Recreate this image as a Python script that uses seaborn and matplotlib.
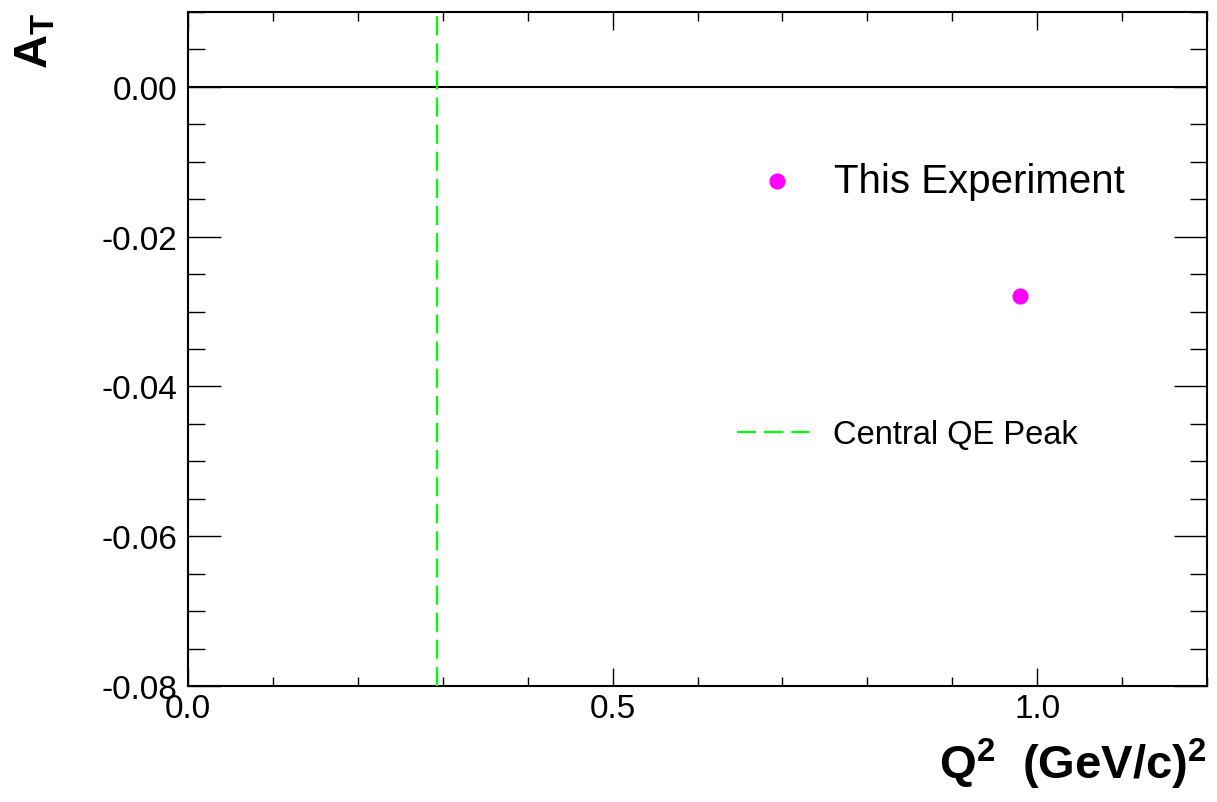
import numpy as np
import matplotlib
matplotlib.use("Agg")
import matplotlib.pyplot as plt
from matplotlib.lines import Line2D
import seaborn as sns

## Data
q2 = [0.98]              # Q^2 (GeV/c)^2
a_t = [-0.0279]          # A_T
qe_peak = 0.293          # central QE peak position
exp_label = "This Experiment"
peak_label = "Central QE Peak"

sns.set_style("ticks")
plt.rcParams['font.family'] = ['Liberation Sans', 'DejaVu Sans']
plt.rcParams['mathtext.fontset'] = 'custom'
plt.rcParams['mathtext.rm'] = 'Liberation Sans'
plt.rcParams['mathtext.bf'] = 'Liberation Sans:bold'
for key in ['text.color', 'axes.labelcolor', 'xtick.color', 'ytick.color', 'axes.edgecolor']:
    plt.rcParams[key] = 'black'

W, H = 1217, 803
fig = plt.figure(figsize=(W / 100, H / 100), dpi=100)
ax = fig.add_axes([188 / W, 1 - 687 / H, (1207 - 188) / W, (687 - 13) / H])

## Data point
sns.scatterplot(x=q2, y=a_t, color="#ff00ff", s=135, linewidth=0, ax=ax, zorder=5)

## Reference lines
ax.axhline(0, color="black", lw=1.5, zorder=2)
ax.axvline(qe_peak, color="#00ff00", lw=1.6, dashes=(8.6, 3.6), zorder=3)

ax.set_xlim(0, 1.2)
ax.set_ylim(-0.08, 0.01)

ax.set_xticks([0.0, 0.5, 1.0])
ax.set_xticklabels(["0.0", "0.5", "1.0"])
ax.set_xticks(np.arange(0, 1.21, 0.1), minor=True)
ax.set_yticks([-0.08, -0.06, -0.04, -0.02, 0.0])
ax.set_yticklabels(["-0.08", "-0.06", "-0.04", "-0.02", "0.00"])
ax.set_yticks(np.arange(-0.08, 0.0101, 0.005), minor=True)

ax.tick_params(axis="both", which="both", direction="in", top=True, right=True,
               width=1.0, color="black", labelsize=24, labelcolor="black")
ax.tick_params(axis="x", which="major", length=13, pad=5)
ax.tick_params(axis="x", which="minor", length=6.5)
ax.tick_params(axis="y", which="major", length=24, pad=8)
ax.tick_params(axis="y", which="minor", length=12)
for sp in ax.spines.values():
    sp.set_linewidth(1.5)
    sp.set_color("black")

## Axis labels
ax.set_xlabel(r"Q$^{\mathbf{2}}$  (GeV/c)$^{\mathbf{2}}$", fontsize=34, fontweight="bold",
              loc="right", color="black")
ax.xaxis.set_label_coords(1.0, -0.074)
ax.set_ylabel(r"A$_{\mathbf{T}}$", fontsize=34, fontweight="bold", loc="top", color="black")
ax.yaxis.set_label_coords(-0.128, 1.0)

## Legends
h1 = ax.collections[0]
leg1 = ax.legend([h1], [exp_label], loc="center left", frameon=False, fontsize=29,
                 bbox_to_anchor=(737 / W, 1 - 182 / H), bbox_transform=fig.transFigure,
                 borderpad=0, borderaxespad=0, handlelength=2.0, handletextpad=0.42,
                 scatterpoints=1, labelcolor="black")
ax.add_artist(leg1)
h2 = Line2D([], [], color="#00ff00", lw=1.6, dashes=(8.6, 3.6))
ax.legend([h2], [peak_label], loc="center left", frameon=False, fontsize=23.5,
          bbox_to_anchor=(737 / W, 1 - 436 / H), bbox_transform=fig.transFigure,
          borderpad=0, borderaxespad=0, handlelength=2.2, handletextpad=0.75,
          labelcolor="black")

fig.savefig("out.png", dpi=100)
